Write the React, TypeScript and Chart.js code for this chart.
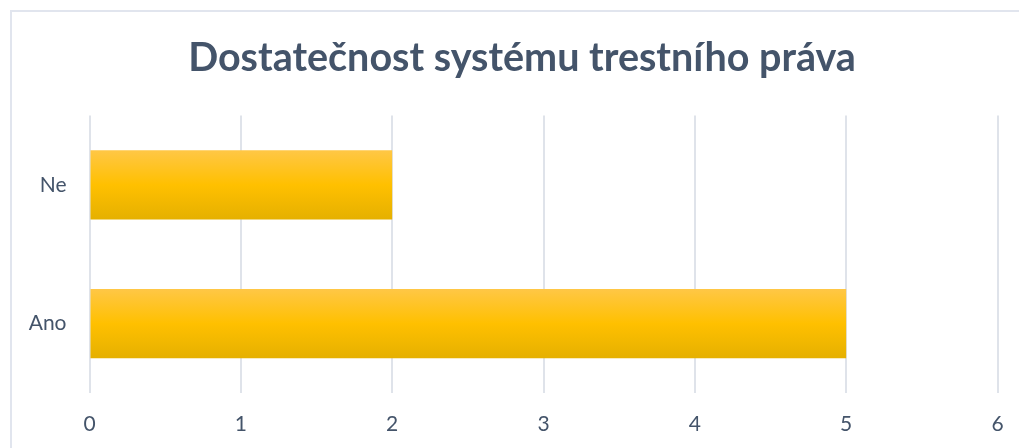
import React, { useEffect, useRef } from "react";
import { Chart, registerables } from "chart.js";

Chart.register(...registerables);

const categories: string[] = ["Ne", "Ano"];
const values: number[] = [2, 5];
const xTicks: number[] = [0, 1, 2, 3, 4, 5, 6];
const titleText = "Dostatečnost systému trestního práva";

const TEXT = "#44546A";
const GRID = "#DFE3EA";

const centeredTitle = {
  id: "centeredTitle",
  afterDraw(chart: any) {
    const ctx = chart.ctx;
    ctx.save();
    ctx.font = "bold 39.5px Lato";
    ctx.fillStyle = TEXT;
    ctx.textAlign = "center";
    ctx.textBaseline = "middle";
    ctx.fillText(titleText, chart.width / 2, 46.5);
    ctx.restore();
  },
};

export default function App() {
  const ref = useRef<HTMLCanvasElement | null>(null);

  useEffect(() => {
    if (!ref.current) return;
    const barPct = 0.5;
    const chart = new Chart(ref.current, {
      type: "bar",
      data: {
        labels: categories,
        datasets: [
          {
            data: values,
            barPercentage: barPct,
            categoryPercentage: 1,
            borderWidth: 0,
            backgroundColor: (ctx: any) => {
              const c = ctx.chart;
              const ys = c.scales && c.scales.y;
              if (!ys || ctx.dataIndex === undefined) return "#FFC000";
              const yc = ys.getPixelForValue(ctx.dataIndex);
              const half = (ys.height / categories.length) * barPct / 2;
              if (!isFinite(yc) || !isFinite(half) || half <= 0) return "#FFC000";
              const g = c.ctx.createLinearGradient(0, yc - half, 0, yc + half);
              g.addColorStop(0, "#FFC746");
              g.addColorStop(0.5, "#FFC000");
              g.addColorStop(1, "#E5B000");
              return g;
            },
          },
        ],
      },
      plugins: [centeredTitle],
      options: {
        indexAxis: "y",
        animation: false,
        responsive: false,
        maintainAspectRatio: false,
        layout: { padding: { left: 0, right: 34.5, top: 103.5, bottom: 0 } },
        plugins: {
          legend: { display: false },
          tooltip: { enabled: false },
          title: { display: false },
        },
        scales: {
          x: {
            min: 0,
            max: 6,
            afterBuildTicks: (s: any) => {
              s.ticks = xTicks.map((v) => ({ value: v }));
            },
            grid: { color: GRID, lineWidth: 2, drawTicks: false },
            border: { display: false },
            ticks: {
              color: TEXT,
              font: { family: "Lato", size: 21 },
              padding: 19,
            },
            afterFit: (s: any) => {
              s.height = 75;
            },
          },
          y: {
            grid: { display: false },
            border: { display: false },
            ticks: {
              color: TEXT,
              font: { family: "Lato", size: 21 },
              padding: 15,
            },
            afterFit: (s: any) => {
              s.width = 77.5;
            },
          },
        },
      },
    } as any);
    return () => chart.destroy();
  }, []);

  return (
    <div
      style={{
        position: "fixed",
        left: 0,
        top: 0,
        width: 1019,
        height: 448,
        overflow: "hidden",
        background: "#fff",
      }}
    >
      <div
        style={{
          position: "absolute",
          left: 10,
          top: 10,
          width: 1024,
          height: 460,
          border: "2px solid #E1E5EE",
          boxSizing: "border-box",
          background: "#fff",
        }}
      >
        <canvas ref={ref} width={1020} height={456} style={{ display: "block" }} />
      </div>
    </div>
  );
}
